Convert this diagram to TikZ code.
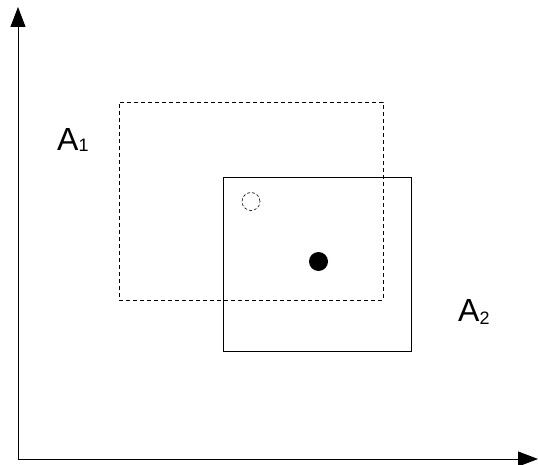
\documentclass[tikz,border=0pt]{standalone}
\usepackage{fontspec}
\setmainfont{Liberation Sans}
\usetikzlibrary{arrows.meta}
\begin{document}
\begin{tikzpicture}[x=1pt,y=-1pt,
  axis/.style={line width=0.9pt,-{Triangle[length=20pt,width=15pt]}},
  region/.style={draw,line width=0.9pt,minimum width=#1,inner sep=0pt,outer sep=0pt},
  point/.style={circle,minimum size=18pt,inner sep=0pt},
  lbl/.style={anchor=base west,inner sep=0pt,font=\fontsize{32}{32}\selectfont}]
  \useasboundingbox (0,0) rectangle (538,465);
  % axes
  \coordinate (origin) at (18,459);
  \coordinate (ytip) at (18,7);
  \coordinate (xtip) at (538,459);
  \draw[axis] (origin) -- (ytip);
  \draw[axis] (origin) -- (xtip);
  % regions A1 (dashed) and A2 (solid)
  \node[region=264pt,minimum height=198pt,dashed,dash pattern=on 4pt off 3pt] (a1) at (251,201) {};
  \node[region=188pt,minimum height=174pt] (a2) at (317,264) {};
  % points
  \node[point,draw,line width=0.6pt,densely dashed] (p1) at (251,201.5) {};
  \node[point,fill=black,minimum size=19pt] (p2) at (318.5,261.5) {};
  % labels
  \node[lbl] (l1) at (57,151) {A\raisebox{-1pt}{\fontsize{18}{18}\selectfont 1}};
  \node[lbl] (l2) at (458,321) {A\raisebox{-3pt}{\fontsize{18}{18}\selectfont 2}};
\end{tikzpicture}
\end{document}
